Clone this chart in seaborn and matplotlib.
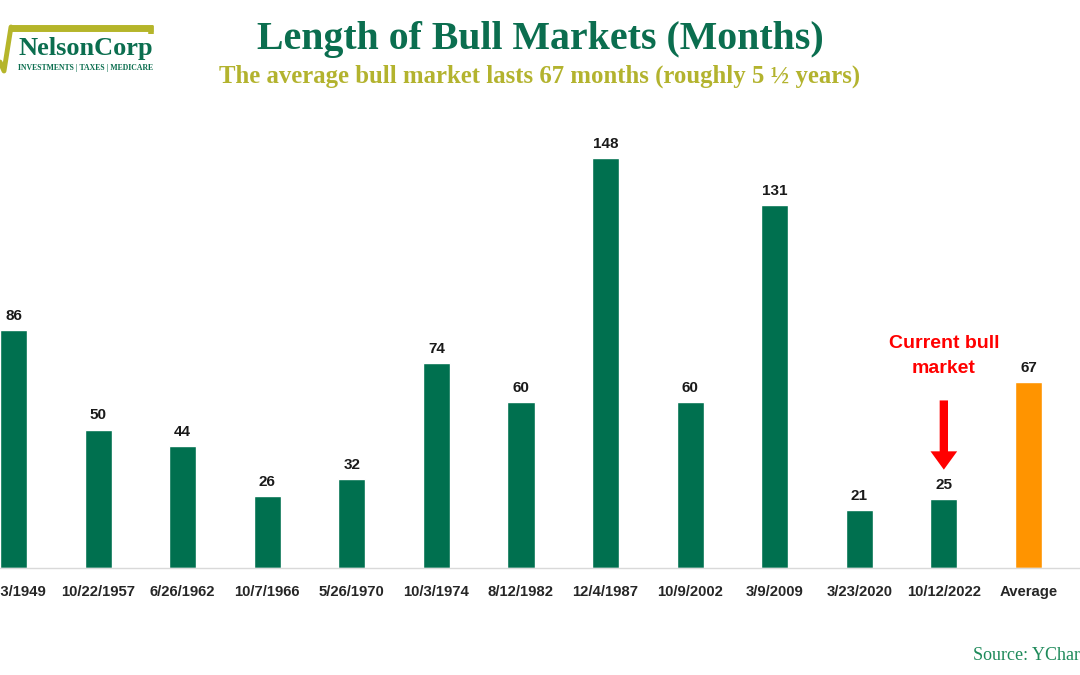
import matplotlib
matplotlib.use("Agg")
import matplotlib.pyplot as plt
import seaborn as sns
import pandas as pd
from matplotlib.lines import Line2D

dates = ["6/13/1949", "10/22/1957", "6/26/1962", "10/7/1966", "5/26/1970",
         "10/3/1974", "8/12/1982", "12/4/1987", "10/9/2002", "3/9/2009",
         "3/23/2020", "10/12/2022", "Average"]
months = [86, 50, 44, 26, 32, 74, 60, 148, 60, 131, 21, 25, 67]
bar_colors = ["#00704F"] * 12 + ["#FF9400"]

title = "Length of Bull Markets (Months)"
subtitle = "The average bull market lasts 67 months (roughly 5 \u00bd years)"
source = "Source: YCharts"

sns.set_theme(style="white")
plt.rcParams['font.family'] = ['Liberation Sans', 'DejaVu Sans']

df = pd.DataFrame({"date": dates, "months": months})

fig = plt.figure(figsize=(10.8, 6.75), dpi=100)
ax = fig.add_axes([0, 0.1585, 1, 0.6566])
sns.barplot(data=df, x="date", y="months", hue="date", palette=bar_colors,
            legend=False, width=0.32, saturation=1, ax=ax)
ax.set_xlim(-0.16, 12.61)
ax.set_ylim(0, 160)
ax.set_xlabel("")
ax.set_ylabel("")
ax.set_yticks([])
for s in ["top", "left", "right"]:
    ax.spines[s].set_visible(False)
ax.spines["bottom"].set_color("#d9d9d9")
ax.spines["bottom"].set_linewidth(1.0)
ax.tick_params(axis="x", length=0, pad=12)
for lbl in ax.get_xticklabels():
    lbl.set_fontweight("bold")
    lbl.set_fontsize(10.7)
    lbl.set_color("#262626")

for i, v in enumerate(months):
    ax.text(i, v + 2.6, str(v), ha="center", va="bottom", fontsize=11,
            fontweight="bold", color="#1a1a1a")

# annotation for current bull market
ax.text(11, 76.4, "Current bull\nmarket", ha="center", va="center",
        fontsize=14, fontweight="bold", color="#FF0000", linespacing=1.6)
ax.annotate("", xy=(11, 34.5), xytext=(11, 61.5),
            arrowprops=dict(arrowstyle="simple,head_length=1.1,head_width=1.6,tail_width=0.5",
                            color="#FF0000", lw=0))

# titles
fig.text(0.5, 1 - 39 / 675, title, ha="center", va="center", fontsize=28.7,
         fontweight="bold", color="#0B6E4F", family=["Liberation Serif", "DejaVu Serif"])
fig.text(0.5, 1 - 76 / 675, subtitle, ha="center", va="center", fontsize=17.8,
         fontweight="bold", color="#B3B32E", family=["Liberation Serif", "DejaVu Serif"])
fig.text(973 / 1080, 1 - 655 / 675, source, ha="left", va="center", fontsize=13,
         color="#1E8A5A", family=["Liberation Serif", "DejaVu Serif"])

# logo
olive = "#B5B52A"
T = fig.transFigure
fig.add_artist(Line2D([10 / 1080, 153 / 1080], [1 - 28 / 675, 1 - 28 / 675],
                      color=olive, lw=5, solid_capstyle="butt", transform=T))
fig.add_artist(Line2D([151 / 1080, 151 / 1080], [1 - 26 / 675, 1 - 34 / 675],
                      color=olive, lw=4, solid_capstyle="butt", transform=T))
fig.add_artist(Line2D([11 / 1080, 4 / 1080, 0 / 1080], [1 - 27 / 675, 1 - 71 / 675, 1 - 62 / 675],
                      color=olive, lw=3.5, transform=T))
fig.text(86 / 1080, 1 - 49 / 675, "NelsonCorp", ha="center", va="center",
         fontsize=19, fontweight="bold", color="#0B6E4F",
         family=["Liberation Serif", "DejaVu Serif"])
fig.text(86 / 1080, 1 - 68 / 675, "INVESTMENTS | TAXES | MEDICARE", ha="center",
         va="center", fontsize=5.6, fontweight="bold", color="#0B6E4F",
         family=["Liberation Serif", "DejaVu Serif"])

fig.savefig("out.png", dpi=100)
